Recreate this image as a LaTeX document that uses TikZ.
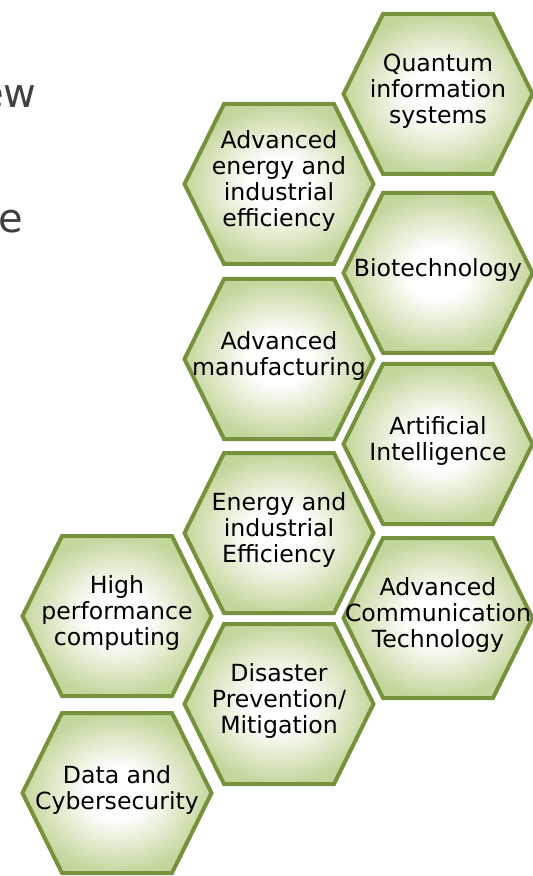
\documentclass[tikz,border=0pt]{standalone}
\usepackage{fontspec}
\setmainfont{DejaVu Sans}
\definecolor{hexline}{RGB}{118,146,60}
\definecolor{hexlight}{RGB}{195,214,155}
\definecolor{bodytext}{RGB}{64,64,64}
\pgfdeclareradialshading{hexglow}{\pgfpoint{0bp}{0bp}}{color(0bp)=(white); color(8bp)=(white);
  color(25bp)=(hexlight); color(50bp)=(hexlight)}

\begin{document}
\begin{tikzpicture}[x=0.5pt, y=-0.5pt,
    hexcell/.style={draw=hexline, line width=2pt, shading=hexglow},
    hexlabel/.style={align=center, inner sep=0pt, yshift=1.5pt,
      font=\fontsize{11.8}{13}\selectfont},
    cuttext/.style={anchor=base east, inner sep=0pt, text=bodytext,
      font=\fontsize{20}{24}\selectfont},
    ]
    \useasboundingbox (0,0) rectangle (533,876);
    \clip (0,0) rectangle (533,876);
    % bits of the slide text behind the cells
    \node[cuttext] (textnew) at (37,108) {ew};
    \node[cuttext] (texte) at (24,233) {e};
    % the cells
    \foreach \name/\x/\y/\txt in {
        quantum/438/94/{Quantum\\information\\systems},
        biotech/438/273/{Biotechnology},
        ai/438/444/{Artificial\\Intelligence},
        comm/438/618/{Advanced\\Communication\\Technology},
        advenergy/279/184/{Advanced\\energy and\\industrial\\efficiency},
        manufact/279/359/{Advanced\\manufacturing},
        energy/279/533/{Energy and\\industrial\\Efficiency},
        disaster/279/704/{Disaster\\Prevention/\\Mitigation},
        hpc/117/616/{High\\performance\\computing},
        data/117/793/{Data and\\Cybersecurity}} {
      \shadedraw[hexcell] (\x,\y) ++(-94.5,0) -- ++(39.5,-80) -- ++(110,0)
        -- ++(39.5,80) -- ++(-39.5,80) -- ++(-110,0) -- cycle;
      \node[hexlabel] (\name) at (\x,\y) {\txt};
    }
  \end{tikzpicture}
\end{document}
